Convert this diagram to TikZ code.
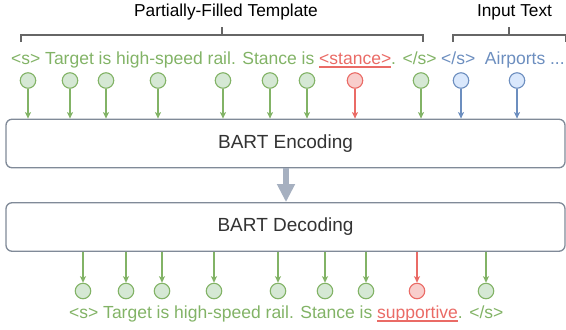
\documentclass[tikz,border=0pt]{standalone}
\usepackage{fontspec}
\setmainfont{Liberation Sans}
\usetikzlibrary{arrows.meta}
\definecolor{gstroke}{HTML}{82B366}
\definecolor{gfill}{HTML}{D5E8D4}
\definecolor{rstroke}{HTML}{EA6B66}
\definecolor{rfill}{HTML}{F8CECC}
\definecolor{bstroke}{HTML}{6C8EBF}
\definecolor{bfill}{HTML}{DAE8FC}
\definecolor{boxline}{RGB}{128,138,152}
\definecolor{bigarrow}{RGB}{166,176,192}
\definecolor{brk}{HTML}{666666}
\definecolor{dtext}{HTML}{333333}
\newsavebox{\myulbox}
\newcommand{\myul}[1]{\sbox\myulbox{#1}\rlap{\rule[-3.9bp]{\wd\myulbox}{1.7bp}}\usebox\myulbox}
\tikzset{
  tok/.style={circle, inner sep=0pt, minimum size=15.5bp, line width=1.1bp},
  gtok/.style={tok, draw=gstroke, fill=gfill},
  rtok/.style={tok, draw=rstroke, fill=rfill},
  btok/.style={tok, draw=bstroke, fill=bfill},
  arr/.style={line width=1.1bp, -{Stealth[length=6.5bp,width=6bp,inset=1.5bp]}},
  garr/.style={arr, draw=gstroke, fill=gstroke},
  rarr/.style={arr, draw=rstroke, fill=rstroke},
  barr/.style={arr, draw=bstroke, fill=bstroke},
  bartbox/.style={draw=boxline, line width=1.3bp, rounded corners=6bp, fill=white,
    minimum width=559bp, minimum height=48.5bp, inner sep=0pt,
    font=\fontsize{19bp}{22bp}\selectfont, text=dtext},
  seqtext/.style={inner sep=0pt, font=\fontsize{17.5bp}{20bp}\selectfont},
  title/.style={inner sep=0pt, font=\fontsize{17.3bp}{20bp}\selectfont, text=black},
  brace/.style={draw=brk, line width=1.2bp},
}
\begin{document}
\begin{tikzpicture}[x=1bp, y=-1bp]
\useasboundingbox (0,0) rectangle (566,329);

% titles and brackets
\node[title, anchor=base] (tpl) at (226,16) {Partially-Filled Template};
\node[title, anchor=base] (inp) at (514.5,16) {Input Text};
\coordinate (bl1) at (21,42);
\coordinate (bl2) at (423,42);
\coordinate (bm1) at (222,27);
\coordinate (br1) at (453,42);
\coordinate (bm2) at (509,27);
\draw[brace] (bl1) -- (21,35) -- (423,35) -- (bl2);
\draw[brace] (bm1) -- (222,35);
\draw[brace] (br1) -- (453,35) -- (565.5,35) -- (565.5,42);
\draw[brace] (bm2) -- (509,35);

% top sequence text
\node[seqtext, anchor=base west, text=gstroke] (toptext) at (11,64)
  {<s> Target is high-speed rail. Stance is \textcolor{rstroke}{\myul{<stance>}}. </s>};
\node[seqtext, anchor=base west, text=bstroke] (inptext) at (441,64)
  {</s>\ \ Airports ...};

% boxes
\node[bartbox] (enc) at (285.5,143.5) {BART Encoding};
\node[bartbox] (dec) at (285.5,227) {BART Decoding};
\draw[line width=6bp, draw=bigarrow, -{Triangle[length=18bp,width=17bp]}] (enc.south -| 286,0) -- (dec.north -| 286,0);

% top tokens
\foreach \i/\x/\s in {1/28/g,2/70/g,3/106/g,4/158/g,5/223/g,6/270/g,7/307/g,8/355/r,9/421/g,10/461/b,11/517/b}{
  \node[\s tok] (t\i) at (\x,80.5) {};
  \draw[\s arr] (t\i) -- (t\i |- enc.north);
}

% bottom tokens
\foreach \i/\x/\s in {1/83/g,2/126/g,3/162/g,4/214/g,5/278/g,6/325/g,7/366/g,8/417/r,9/486/g}{
  \node[\s tok] (d\i) at (\x,291) {};
  \draw[\s arr] (d\i |- dec.south) -- (d\i);
}

% bottom sequence text
\node[seqtext, anchor=base west, text=gstroke] (bottext) at (69,318)
  {<s> Target is high-speed rail. Stance is \textcolor{rstroke}{\myul{supportive}}. </s>};
\end{tikzpicture}
\end{document}
